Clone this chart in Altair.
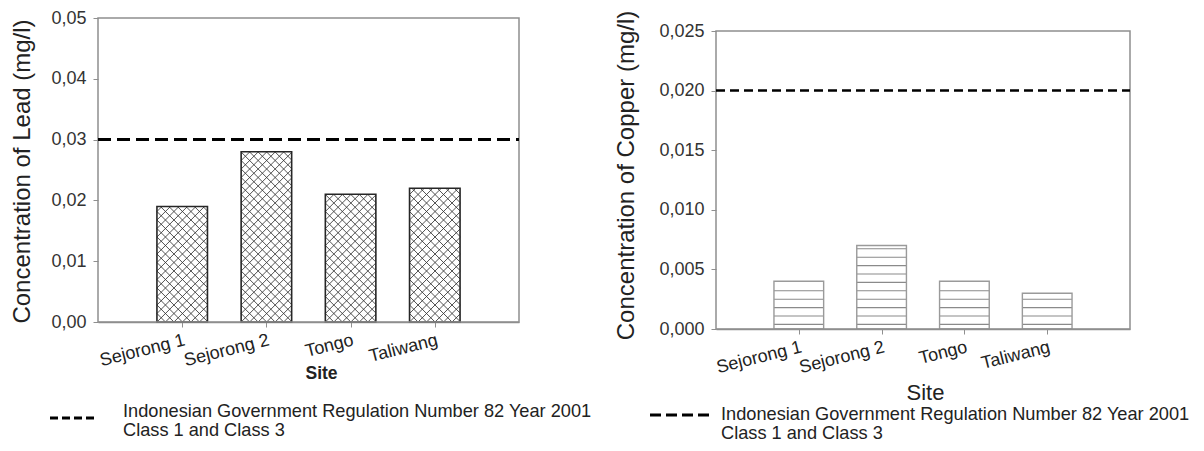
import json
import math

import altair as alt
import pandas as pd

# ---- data -------------------------------------------------------------
sites = ["Sejorong 1", "Sejorong 2", "Tongo", "Taliwang"]
lead = [0.019, 0.028, 0.021, 0.022]
copper = [0.004, 0.007, 0.004, 0.003]
lead_limit = 0.03
copper_limit = 0.02
lead_ticks = [0.0, 0.01, 0.02, 0.03, 0.04, 0.05]
copper_ticks = [0.0, 0.005, 0.010, 0.015, 0.020, 0.025]
legend_lines = [
    "Indonesian Government Regulation Number 82 Year 2001",
    "Class 1 and Class 3",
]

# ---- styling / geometry ------------------------------------------------
FONT = "Liberation Sans"
BOX = "#8f8f8f"
INK = "#222222"
positions = [1, 2, 3, 4]
X_MAX = 5
BAR_HALF = 0.3

LW, LH = 421, 304            # lead panel plot area
RW, RH = 414, 311            # copper panel view (box itself is 298 px tall)
R_BOX_PX = 298
R_TOP = copper_ticks[-1] * RH / R_BOX_PX

label_expr = f"{json.dumps(sites)}[datum.value - 1]"


def bars_frame(values):
    return pd.DataFrame({
        "site": sites,
        "x0": [p - BAR_HALF for p in positions],
        "x1": [p + BAR_HALF for p in positions],
        "value": values,
        "base": [0.0] * len(values),
    })


def crosshatch(values, width_px, height_px, ytop, spacing=8.5):
    """Diagonal cross-hatch segments clipped to each bar, in data units."""
    sx = width_px / X_MAX
    sy = height_px / ytop
    rows = []
    for pos, val in zip(positions, values):
        x0 = (pos - BAR_HALF) * sx
        w = 2 * BAR_HALF * sx
        h = val * sy
        # rising lines: v = u - c
        for k in range(-math.ceil(h / spacing) - 1, math.ceil(w / spacing) + 2):
            c = k * spacing
            ua, ub = max(0.0, c), min(w, h + c)
            if ub - ua > 0.5:
                rows.append(((x0 + ua) / sx, (ua - c) / sy, (x0 + ub) / sx, (ub - c) / sy))
        # falling lines: v = c - u
        for k in range(0, math.ceil((w + h) / spacing) + 2):
            c = k * spacing
            ua, ub = max(0.0, c - h), min(w, c)
            if ub - ua > 0.5:
                rows.append(((x0 + ua) / sx, (c - ua) / sy, (x0 + ub) / sx, (c - ub) / sy))
    return pd.DataFrame(rows, columns=["xa", "ya", "xb", "yb"])


def hlines(values, height_px, ytop, spacing=8.4, offset=4.6):
    """Horizontal hatch lines inside each bar, in data units."""
    sy = height_px / ytop
    rows = []
    for pos, val in zip(positions, values):
        h = val * sy
        v = offset
        while v < h - 1.5:
            rows.append((pos - BAR_HALF, pos + BAR_HALF, v / sy))
            v += spacing
    return pd.DataFrame(rows, columns=["xa", "xb", "y"])


one = pd.DataFrame({"k": [0]})


def panel(values, limit, ticks, fmt, ytop, w, h, hatch, ytitle, site_title,
          limit_dash, limit_width, y_title_x, y_title_y, site_x, site_y,
          site_style, legend):
    xs = alt.Scale(domain=[0, X_MAX], nice=False, zero=False)
    ys = alt.Scale(domain=[0, ytop], nice=False)
    x_axis = alt.Axis(
        values=positions, labelExpr=label_expr, labelAngle=346,
        labelAlign="right", labelBaseline="top", labelPadding=4,
        labelOverlap=False, labelFontSize=18, labelColor=INK,
        tickSize=5, tickColor=BOX,
        domainColor=BOX, domainWidth=1.5, grid=False,
        title=site_title, titleX=site_x, titleY=site_y,
        titleAlign="center", titleBaseline="middle", titleColor=INK,
        **site_style,
    )
    y_axis = alt.Axis(
        values=ticks, labelExpr=f"replace(format(datum.value, '{fmt}'), '.', ',')",
        labelFontSize=18, labelColor="#333333", labelPadding=7,
        tickSize=5, tickColor=BOX, domain=False, grid=False,
        title=ytitle, titleFontSize=24, titleFontWeight="normal",
        titleColor=INK, titleX=y_title_x, titleY=y_title_y,
        titleAlign="center", titleBaseline="middle", titleAngle=270,
    )
    bars = bars_frame(values)
    base = alt.Chart(bars).mark_rect(fill="white").encode(
        x=alt.X("x0:Q", scale=xs, axis=x_axis),
        x2="x1:Q",
        y=alt.Y("value:Q", scale=ys, axis=y_axis),
        y2="base:Q",
    )
    if hatch == "cross":
        hd = crosshatch(values, w, h, ytop)
        hatch_layer = alt.Chart(hd).mark_rule(color="#333333", strokeWidth=0.85).encode(
            x="xa:Q", y="ya:Q", x2="xb:Q", y2="yb:Q")
        outline = alt.Chart(bars).mark_rect(fillOpacity=0, stroke="#262626", strokeWidth=1.6)
    else:
        hd = hlines(values, h, ytop)
        hatch_layer = alt.Chart(hd).mark_rule(color="#8a8a8a", strokeWidth=1.1).encode(
            x="xa:Q", x2="xb:Q", y="y:Q")
        outline = alt.Chart(bars).mark_rect(fillOpacity=0, stroke="#9a9a9a", strokeWidth=1.4)
    outline = outline.encode(x="x0:Q", x2="x1:Q", y="value:Q", y2="base:Q")

    box = alt.Chart(one).mark_rect(fillOpacity=0, stroke=BOX, strokeWidth=1.5).encode(
        x=alt.datum(0), x2=alt.datum(X_MAX), y=alt.datum(0), y2=alt.datum(ticks[-1]))

    lim = alt.Chart(pd.DataFrame({"limit": [limit]})).mark_rule(
        color="black", strokeDash=limit_dash, strokeWidth=limit_width).encode(
        x=alt.datum(0), x2=alt.datum(X_MAX), y="limit:Q")

    (dx0, dx1, dy, ddash), (tx, ty1, ty2) = legend
    leg_dash = alt.Chart(one).mark_rule(color="black", strokeDash=ddash, strokeWidth=3).encode(
        x=alt.value(dx0), x2=alt.value(dx1), y=alt.value(dy))
    leg_t1 = alt.Chart(one).mark_text(
        align="left", baseline="middle", font=FONT, fontSize=18.2, color=INK).encode(
        x=alt.value(tx), y=alt.value(ty1), text=alt.value(legend_lines[0]))
    leg_t2 = alt.Chart(one).mark_text(
        align="left", baseline="middle", font=FONT, fontSize=18.2, color=INK).encode(
        x=alt.value(tx), y=alt.value(ty2), text=alt.value(legend_lines[1]))

    return alt.layer(base, hatch_layer, outline, box, lim, leg_dash, leg_t1, leg_t2).properties(
        width=w, height=h)


lead_panel = panel(
    lead, lead_limit, lead_ticks, ".2f", lead_ticks[-1], LW, LH, "cross",
    "Concentration of Lead (mg/l)", "Site", [13, 6], 3,
    y_title_x=-76, y_title_y=153, site_x=223, site_y=51,
    site_style={"titleFontSize": 17.5, "titleFontWeight": "bold"},
    legend=((-48, -4, 400, [8, 4]), (25, 394, 413)),
)

copper_panel = panel(
    copper, copper_limit, copper_ticks, ".3f", R_TOP, RW, RH, "lines",
    "Concentration of Copper (mg/l)", "Site", [9, 5], 2.5,
    y_title_x=-90, y_title_y=157, site_x=209, site_y=63,
    site_style={"titleFontSize": 22, "titleFontWeight": "normal"},
    legend=((-66, -4, 397, [11, 5]), (5, 397, 416)),
)

chart = alt.hconcat(lead_panel, copper_panel, spacing=22).properties(
    padding={"left": 10, "top": 9, "right": 0, "bottom": 0},
    background="white",
).configure_view(stroke=None).configure_axis(
    labelFont=FONT, titleFont=FONT,
)

chart.save("out.html", embed_options={"renderer": "svg", "actions": False})
